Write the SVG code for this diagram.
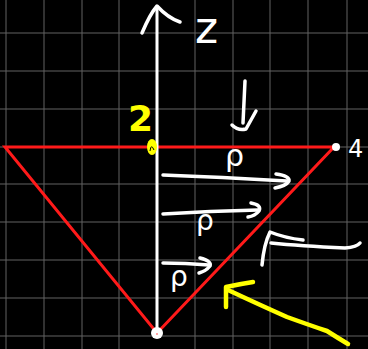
<svg xmlns="http://www.w3.org/2000/svg" width="368" height="349" viewBox="0 0 368 349">
<defs>
<style>
.grid{stroke:#626262;stroke-width:1}
.w{fill:none;stroke:#fff;stroke-width:3.5;stroke-linecap:round;stroke-linejoin:round}
.y{fill:none;stroke:#ffff00;stroke-width:4.5;stroke-linecap:round;stroke-linejoin:round}
.red{fill:none;stroke:#ff1a1a;stroke-width:3;stroke-linejoin:miter}
.tw{fill:#fff;font-family:"DejaVu Sans",sans-serif}
.ty{fill:#ffff00;font-family:"DejaVu Sans",sans-serif;font-weight:bold}
</style>
</defs>
<rect width="368" height="349" fill="#000"/>
<g id="grid">
<line class="grid" x1="6" y1="0" x2="6" y2="349"/>
<line class="grid" x1="44" y1="0" x2="44" y2="349"/>
<line class="grid" x1="82" y1="0" x2="82" y2="349"/>
<line class="grid" x1="119" y1="0" x2="119" y2="349"/>
<line class="grid" x1="195" y1="0" x2="195" y2="349"/>
<line class="grid" x1="233" y1="0" x2="233" y2="349"/>
<line class="grid" x1="270" y1="0" x2="270" y2="349"/>
<line class="grid" x1="308" y1="0" x2="308" y2="349"/>
<line class="grid" x1="347" y1="0" x2="347" y2="349"/>
<line class="grid" x1="0" y1="33" x2="368" y2="33"/>
<line class="grid" x1="0" y1="71" x2="368" y2="71"/>
<line class="grid" x1="0" y1="109" x2="368" y2="109"/>
<line class="grid" x1="0" y1="147" x2="368" y2="147"/>
<line class="grid" x1="0" y1="184" x2="368" y2="184"/>
<line class="grid" x1="0" y1="222" x2="368" y2="222"/>
<line class="grid" x1="0" y1="260" x2="368" y2="260"/>
<line class="grid" x1="0" y1="298" x2="368" y2="298"/>
<line class="grid" x1="0" y1="336" x2="368" y2="336"/>
</g>
<g id="triangle">
<path class="red" d="M5,147 L334,147 L157,333 Z"/>
</g>
<g id="axis">
<line x1="157" y1="6" x2="157" y2="333" stroke="#fff" stroke-width="3"/>
<path class="w" d="M142,33 Q150,14 157,6 Q168,18 180,22"/>
<text class="tw" x="195" y="43" font-size="44">z</text>
</g>
<g id="points">
<circle cx="336" cy="147" r="4" fill="#fff"/>
<circle cx="157" cy="333" r="6" fill="#fff"/>
<circle cx="157" cy="334" r="0.8" fill="#f33"/>
<text class="tw" x="348" y="157" font-size="24">4</text>
<text class="ty" x="128" y="131" font-size="36">2</text>
<ellipse cx="152" cy="147" rx="5" ry="8" fill="#ffff00"/>
<path d="M150,151 Q151,143 154,150" fill="none" stroke="#000" stroke-width="1"/>
</g>
<g id="connectors">
<path class="w" d="M245,81 L243,123"/>
<path class="w" d="M232,125 Q238,131 246,129 L256,111"/>
<path class="w" d="M163,175 Q220,177 287,181"/>
<path class="w" d="M276,174 Q290,176 289,181 Q286,186 275,188"/>
<path class="w" d="M163,214 Q210,211 258,210"/>
<path class="w" d="M251,203 Q262,205 259,211 Q255,216 248,217"/>
<path class="w" d="M163,263 Q185,263 209,265"/>
<path class="w" d="M200,258 Q212,261 210,266 Q206,271 199,273"/>
<path class="w" d="M262,265 Q264,244 270,232 Q285,238 303,240"/>
<path class="w" d="M271,243 Q300,246 345,248 Q357,247 360,243"/>
<path class="y" d="M226,307 L226,287 Q240,284 253,282"/>
<path class="y" d="M228,290 Q260,305 287,317 Q312,326 327,331 Q338,338 348,344"/>
</g>
<g id="labels">
<text class="tw" x="225" y="166" font-size="30">ρ</text>
<text class="tw" x="196" y="230" font-size="28">ρ</text>
<text class="tw" x="170" y="286" font-size="28">ρ</text>
</g>
</svg>
